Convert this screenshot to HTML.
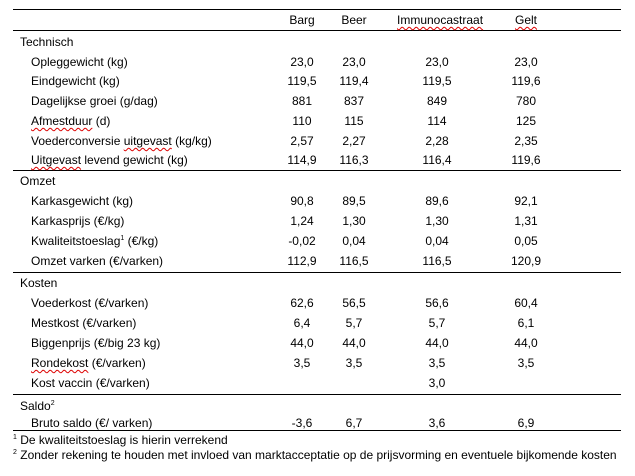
<!DOCTYPE html>
<html><head><style>
body{margin:0;width:635px;height:476px;background:#fff;font-family:"Liberation Sans",Arial,sans-serif;font-size:12px;color:#000;position:relative;overflow:hidden}
.t{position:absolute;white-space:nowrap;line-height:14px}
.c{position:absolute;width:80px;text-align:center;line-height:14px}
.l{position:absolute;left:13px;width:608px;height:0;border-top:1.5px solid #000}
.u{text-decoration:underline wavy #d00;text-decoration-thickness:1px;text-underline-offset:2px}
sup{font-size:7px;vertical-align:5px;line-height:0}
</style></head><body>
<div class="l" style="top:9px"></div>
<div class="l" style="top:30px"></div>
<div class="l" style="top:170px"></div>
<div class="l" style="top:272px"></div>
<div class="l" style="top:394px"></div>
<div class="l" style="top:430px"></div>
<div class="c" style="left:262px;top:13px">Barg</div>
<div class="c" style="left:314px;top:13px">Beer</div>
<div class="c" style="left:397px;top:13px"><span class="u">Immunocastraat</span></div>
<div class="c" style="left:486px;top:13px"><span class="u">Gelt</span></div>

<div class="t" style="left:20px;top:35px">Technisch</div>
<div class="t" style="left:31px;top:55px">Opleggewicht (kg)</div>
<div class="t" style="left:31px;top:74px">Eindgewicht (kg)</div>
<div class="t" style="left:31px;top:94px">Dagelijkse groei (g/dag)</div>
<div class="t" style="left:31px;top:114px"><span class="u">Afmestduur</span> (d)</div>
<div class="t" style="left:31px;top:134px">Voederconversie <span class="u">uitgevast</span> (kg/kg)</div>
<div class="t" style="left:31px;top:153px"><span class="u">Uitgevast</span> levend gewicht (kg)</div>

<div class="t" style="left:20px;top:174px">Omzet</div>
<div class="t" style="left:31px;top:194px">Karkasgewicht (kg)</div>
<div class="t" style="left:31px;top:214px">Karkasprijs (€/kg)</div>
<div class="t" style="left:31px;top:234px">Kwaliteitstoeslag<sup>1</sup> (€/kg)</div>
<div class="t" style="left:31px;top:254px">Omzet varken (€/varken)</div>

<div class="t" style="left:20px;top:276px">Kosten</div>
<div class="t" style="left:31px;top:296px">Voederkost (€/varken)</div>
<div class="t" style="left:31px;top:316px">Mestkost (€/varken)</div>
<div class="t" style="left:31px;top:336px">Biggenprijs (€/big 23 kg)</div>
<div class="t" style="left:31px;top:356px"><span class="u">Rondekost</span> (€/varken)</div>
<div class="t" style="left:31px;top:376px">Kost vaccin (€/varken)</div>

<div class="t" style="left:20px;top:399px">Saldo<sup>2</sup></div>
<div class="t" style="left:31px;top:416px">Bruto saldo (€/ varken)</div>

<div class="t" style="left:13px;top:433px"><sup>1</sup> De kwaliteitstoeslag is hierin verrekend</div>
<div class="t" style="left:13px;top:448px"><sup>2</sup> Zonder rekening te houden met invloed van marktacceptatie op de prijsvorming en eventuele bijkomende kosten</div>

<div id="nums"></div>
<script>
var rows=[[55,"23,0","23,0","23,0","23,0"],[74,"119,5","119,4","119,5","119,6"],[94,"881","837","849","780"],[114,"110","115","114","125"],[134,"2,57","2,27","2,28","2,35"],[153,"114,9","116,3","116,4","119,6"],
[194,"90,8","89,5","89,6","92,1"],[214,"1,24","1,30","1,30","1,31"],[234,"-0,02","0,04","0,04","0,05"],[254,"112,9","116,5","116,5","120,9"],
[296,"62,6","56,5","56,6","60,4"],[316,"6,4","5,7","5,7","6,1"],[336,"44,0","44,0","44,0","44,0"],[356,"3,5","3,5","3,5","3,5"],[376,"","","3,0",""],[416,"-3,6","6,7","3,6","6,9"]];
var xs=[262,314,397,486],h="";
rows.forEach(function(r){for(var i=0;i<4;i++)h+='<div class="c" style="left:'+xs[i]+'px;top:'+r[0]+'px">'+r[i+1]+'</div>';});
document.getElementById("nums").innerHTML=h;
</script>
</body></html>
